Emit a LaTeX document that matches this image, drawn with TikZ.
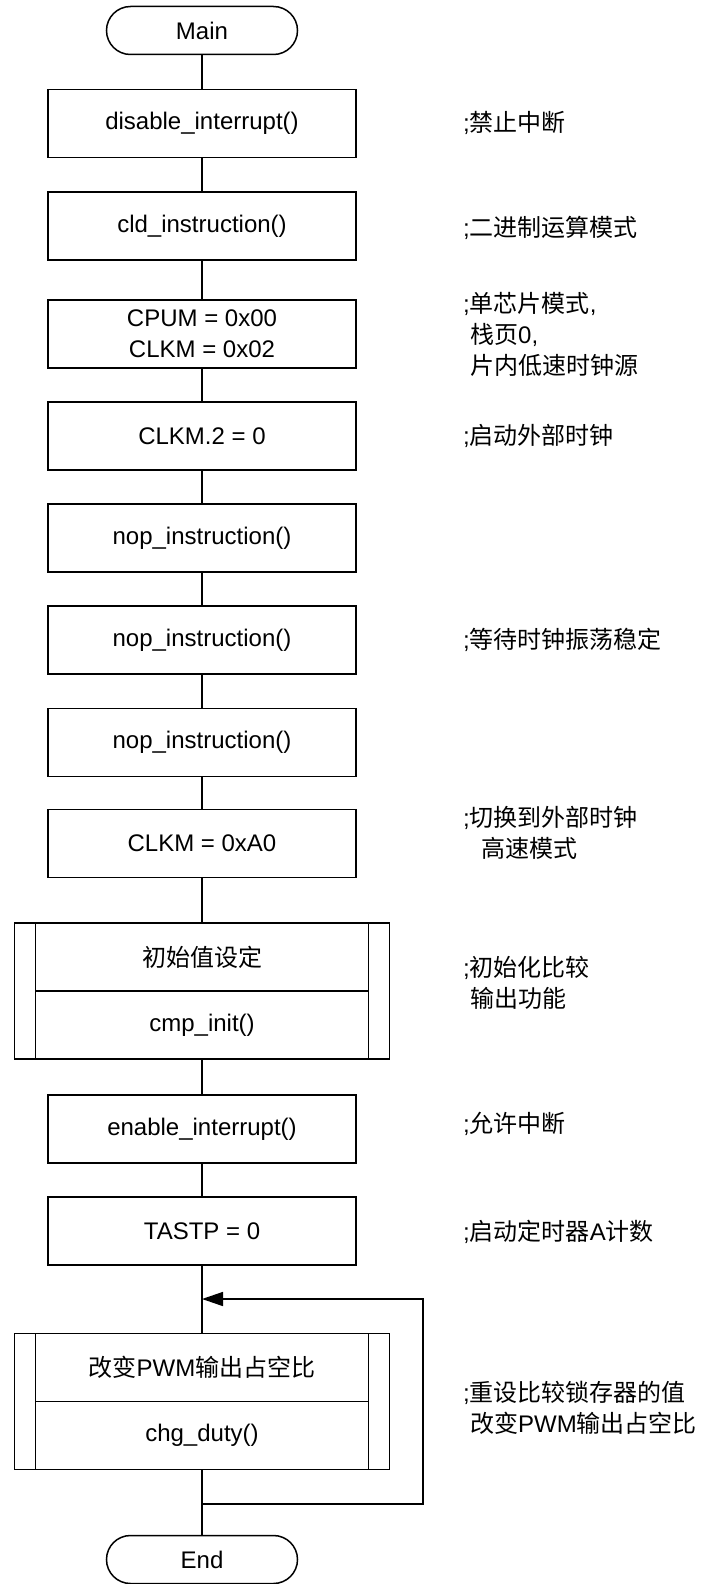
\documentclass[tikz,border=0pt]{standalone}
\usepackage{fontspec}
\setmainfont{Liberation Sans}
\newfontfamily\cjk{Noto Sans CJK SC}
\usetikzlibrary{arrows.meta}
\tikzset{
  terminal/.style={draw, line width=1.5pt, rounded corners=24pt,
    minimum width=191pt, minimum height=48pt, inner sep=0pt},
  process/.style={draw, line width=1.5pt, minimum width=308pt,
    minimum height=68pt, align=center, inner sep=0pt},
  subroutine/.style={draw, line width=1.5pt, minimum width=375pt,
    minimum height=136pt, inner sep=0pt,
    path picture={
      \draw[line width=1.5pt] ([xshift=21pt]path picture bounding box.north west) -- ([xshift=21pt]path picture bounding box.south west);
      \draw[line width=1.5pt] ([xshift=-21pt]path picture bounding box.north east) -- ([xshift=-21pt]path picture bounding box.south east);
      \draw[line width=1.5pt] ([xshift=21pt]path picture bounding box.west) -- ([xshift=-21pt]path picture bounding box.east);
    }},
  note/.style={anchor=west, align=left, inner sep=0pt},
  flow/.style={line width=1.5pt},
}

\begin{document}
\begin{tikzpicture}[x=1pt, y=-1pt, font=\fontsize{24}{31}\selectfont]
  \pgfmathsetmacro{\midx}{202}
  \pgfmathsetmacro{\notex}{463}
  \useasboundingbox (0,0) rectangle (703,1584);

  \node[terminal] (main) at (\midx, 30.5) {Main};

  % plain steps
  \foreach \name/\y/\txt in {disint/123.5/{disable\_interrupt()}, cld/226/{cld\_instruction()},
      cpum/334/{CPUM = 0x00\\CLKM = 0x02}, clktwo/436/{CLKM.2 = 0},
      nopa/538/{nop\_instruction()}, nopb/640/{nop\_instruction()}, nopc/742.5/{nop\_instruction()},
      clkaz/843.5/{CLKM = 0xA0}, enint/1129/{enable\_interrupt()}, tastp/1231/{TASTP = 0}} {
    \node[process] (\name) at (\midx, \y) {\txt};
  }

  % subroutine calls
  \node[subroutine] (init) at (\midx, 991) {};
  \node (init-t) at (\midx, 957) {\cjk 初始值设定};
  \node (init-b) at (\midx, 1025) {cmp\_init()};
  \node[subroutine] (pwm) at (\midx, 1401.5) {};
  \node (pwm-t) at (\midx, 1367) {{\cjk 改变}PWM{\cjk 输出占空比}};
  \node (pwm-b) at (\midx, 1435) {chg\_duty()};

  \node[terminal] (end) at (\midx, 1559.5) {End};

  \foreach \a/\b in {main/disint, disint/cld, cld/cpum, cpum/clktwo, clktwo/nopa, nopa/nopb,
      nopb/nopc, nopc/clkaz, clkaz/init, init/enint, enint/tastp, tastp/pwm, pwm/end}
    \draw[flow] (\a.south) -- (\b.north);

  % loop back
  \coordinate (loopout) at (\midx, 1504);
  \coordinate (loopin) at (\midx, 1299);
  \draw[flow, -{Triangle[length=21pt, width=14pt]}] (loopout) -- (423, 1504) -- (423, 1299) -- (loopin);

  % comments
  \node[note] (n-disint) at (\notex, 123) {;{\cjk 禁止中断}};
  \node[note] (n-cld) at (\notex, 228) {;{\cjk 二进制运算模式}};
  \node[note] (n-cpum) at (\notex, 334) {;{\cjk 单芯片模式},\\\hspace*{7pt}{\cjk 栈页}0,\\\hspace*{7pt}{\cjk 片内低速时钟源}};
  \node[note] (n-clktwo) at (\notex, 436) {;{\cjk 启动外部时钟}};
  \node[note] (n-nopb) at (\notex, 640) {;{\cjk 等待时钟振荡稳定}};
  \node[note] (n-clkaz) at (\notex, 833) {;{\cjk 切换到外部时钟}\\\hspace*{18pt}{\cjk 高速模式}};
  \node[note] (n-init) at (\notex, 983) {;{\cjk 初始化比较}\\\hspace*{7pt}{\cjk 输出功能}};
  \node[note] (n-enint) at (\notex, 1124) {;{\cjk 允许中断}};
  \node[note] (n-tastp) at (\notex, 1232) {;{\cjk 启动定时器}A{\cjk 计数}};
  \node[note] (n-pwm) at (\notex, 1408) {;{\cjk 重设比较锁存器的值}\\\hspace*{7pt}{\cjk 改变}PWM{\cjk 输出占空比}};
\end{tikzpicture}
\end{document}
